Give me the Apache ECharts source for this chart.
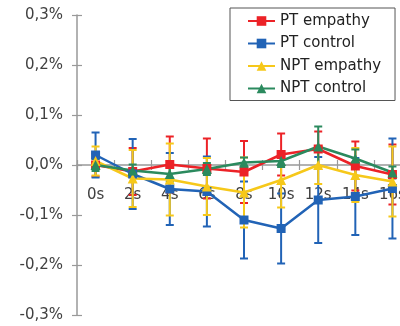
<!DOCTYPE html>
<html>
<head>
<meta charset="utf-8">
<style>
  html, body { margin: 0; padding: 0; background: #fff; }
  #chart { width: 400px; height: 326px; }
</style>
<script src="https://cdn.jsdelivr.net/npm/echarts@6/dist/echarts.min.js"></script>
</head>
<body>
<div id="chart"></div>
<script>
// Time points after stimulus onset
const categories = ['0s', '2s', '4s', '6s', '8s', '10s', '12s', '14s', '16s'];

// Mean change (%) per group
const ptEmpathy   = [0.000, -0.013, 0.001, -0.007, -0.014, 0.021, 0.032, -0.002, -0.019];
const ptControl   = [0.020, -0.018, -0.048, -0.053, -0.110, -0.127, -0.070, -0.063, -0.047];
const nptEmpathy  = [0.008, -0.027, -0.029, -0.043, -0.055, -0.030, 0.000, -0.020, -0.033];
const nptControl  = [0.000, -0.011, -0.018, -0.008, 0.005, 0.008, 0.037, 0.013, -0.015];

// Error (± %) per group
const ptEmpathyErr  = [0.023, 0.047, 0.056, 0.060, 0.062, 0.042, 0.035, 0.049, 0.060];
const ptControlErr  = [0.045, 0.070, 0.072, 0.070, 0.077, 0.070, 0.086, 0.077, 0.100];
const nptEmpathyErr = [0.029, 0.057, 0.072, 0.057, 0.070, 0.055, 0.038, 0.054, 0.070];
const nptControlErr = [0.012, 0.012, 0.015, 0.012, 0.010, 0.012, 0.040, 0.018, 0.012];

// Y axis range and step (%)
const yMin = -0.3;
const yMax = 0.3;
const yStep = 0.1;

const groups = [
  { name: 'PT empathy',  values: ptEmpathy,  err: ptEmpathyErr,  color: '#ec2227', symbol: 'rect' },
  { name: 'PT control',  values: ptControl,  err: ptControlErr,  color: '#2163b6', symbol: 'rect' },
  { name: 'NPT empathy', values: nptEmpathy, err: nptEmpathyErr, color: '#f6c81a', symbol: 'triangle' },
  { name: 'NPT control', values: nptControl, err: nptControlErr, color: '#2b8a5e', symbol: 'triangle' }
];

const FONT = 'DejaVu Sans';
const AXIS_GRAY = '#999999';
const tickStyle = { color: AXIS_GRAY, width: 1.2 };

function errorBarSeries(g) {
  return {
    type: 'custom',
    name: g.name + ' err',
    xAxisIndex: 0,
    yAxisIndex: 0,
    data: g.values.map((v, i) => [i, v - g.err[i], v + g.err[i]]),
    renderItem: function (params, api) {
      const lo = api.coord([api.value(0), api.value(1)]);
      const hi = api.coord([api.value(0), api.value(2)]);
      const cap = 4;
      const style = { stroke: g.color, lineWidth: 2 };
      return {
        type: 'group',
        children: [
          { type: 'line', shape: { x1: lo[0], y1: lo[1], x2: hi[0], y2: hi[1] }, style: style },
          { type: 'line', shape: { x1: lo[0] - cap, y1: lo[1], x2: lo[0] + cap, y2: lo[1] }, style: style },
          { type: 'line', shape: { x1: hi[0] - cap, y1: hi[1], x2: hi[0] + cap, y2: hi[1] }, style: style }
        ]
      };
    },
    silent: true,
    z: 2
  };
}

function lineSeries(g) {
  return {
    type: 'line',
    name: g.name,
    data: g.values,
    xAxisIndex: 0,
    yAxisIndex: 0,
    symbol: g.symbol,
    symbolSize: g.symbol === 'rect' ? 9 : 10,
    color: g.color,
    lineStyle: { color: g.color, width: 2.5 },
    itemStyle: { color: g.color },
    animation: false,
    z: 3
  };
}

const series = [];
groups.forEach(g => { series.push(errorBarSeries(g)); series.push(lineSeries(g)); });

const fmt = v => (Math.round(v * 10) / 10).toFixed(1).replace('.', ',') + '%';

// Plot area plus two half-height grids whose shared edge is the 0 % line,
// used to draw the crossing category axis there.
const plot = { left: 77, top: 15, width: 334, height: 300 };
const half = plot.height * (yMax / (yMax - yMin));

const chart = echarts.init(document.getElementById('chart'), null, { renderer: 'canvas' });
chart.setOption({
  animation: false,
  backgroundColor: '#ffffff',
  grid: [
    Object.assign({ outerBoundsMode: 'none', containLabel: false }, plot),
    { left: plot.left, top: plot.top, width: plot.width, height: half, outerBoundsMode: 'none', containLabel: false },
    { left: plot.left, top: plot.top + half, width: plot.width, height: plot.height - half, outerBoundsMode: 'none', containLabel: false }
  ],
  legend: {
    data: groups.map(g => g.name),
    orient: 'vertical',
    left: 230,
    top: 8,
    padding: [5, 14, 4, 17],
    itemGap: 6.5,
    itemWidth: 27,
    itemHeight: 12,
    backgroundColor: '#ffffff',
    borderColor: '#555555',
    borderWidth: 1,
    textStyle: { fontFamily: FONT, fontSize: 15, color: '#222222', lineHeight: 16 }
  },
  xAxis: [{
    gridIndex: 0,
    type: 'category',
    data: categories,
    boundaryGap: true,
    show: false
  }, {
    gridIndex: 1,
    type: 'category',
    data: categories,
    boundaryGap: true,
    position: 'bottom',
    axisLine: { show: true, onZero: false, lineStyle: { color: AXIS_GRAY, width: 1.5 } },
    axisTick: { show: true, length: 5, inside: false, lineStyle: tickStyle },
    axisLabel: { show: true, fontFamily: FONT, fontSize: 15, color: '#404040', margin: 23 },
    splitLine: { show: false }
  }, {
    gridIndex: 2,
    type: 'category',
    data: categories,
    boundaryGap: true,
    position: 'top',
    axisLine: { show: false, onZero: false },
    axisTick: { show: true, length: 5, inside: false, lineStyle: tickStyle },
    axisLabel: { show: false },
    splitLine: { show: false }
  }],
  yAxis: [{
    gridIndex: 0,
    type: 'value',
    min: yMin,
    max: yMax,
    interval: yStep,
    position: 'left',
    axisLine: { show: true, onZero: false, lineStyle: { color: AXIS_GRAY, width: 1.5 } },
    axisTick: { show: true, length: 5, inside: false, lineStyle: tickStyle },
    axisLabel: { fontFamily: FONT, fontSize: 15, color: '#404040', margin: 14, formatter: fmt },
    splitLine: { show: false }
  }, {
    gridIndex: 0,
    type: 'value',
    min: yMin,
    max: yMax,
    interval: yStep,
    position: 'left',
    axisLine: { show: false, onZero: false },
    axisTick: { show: true, length: 5, inside: true, lineStyle: tickStyle },
    axisLabel: { show: false },
    splitLine: { show: false }
  }, {
    gridIndex: 1, type: 'value', min: 0, max: 1, show: false
  }, {
    gridIndex: 2, type: 'value', min: 0, max: 1, show: false
  }],
  series: series
});
</script>
</body>
</html>
